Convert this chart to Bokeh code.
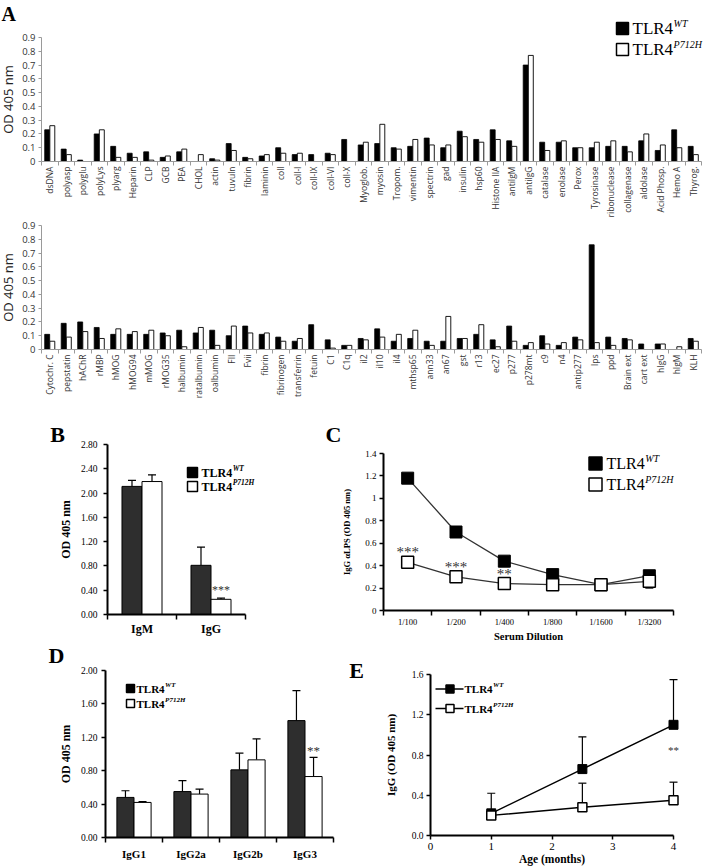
import numpy as np
from bokeh.plotting import figure
from bokeh.layouts import column, row
from bokeh.models import (Range1d, FixedTicker, Label, Whisker, ColumnDataSource, TeeHead,
                          LinearAxis)
from bokeh.embed import file_html
from bokeh.resources import INLINE

SANS = "Open Sans"
SERIF = "Liberation Serif"

# ---------------- data ----------------
a1_antigens = ["dsDNA", "polyasp", "polyglu", "polyLys", "plyarg", "Heparin", "CLP", "GCB", "PEA", "CHOL",
               "actin", "tuvuln", "fibrin", "laminin", "coll", "coll-I", "coll-IX", "coll-VI", "coll-X", "Myoglob.",
               "myosin", "Tropom.", "vimentin", "spectrin", "gad", "insulin", "hsp60", "Histone IIA", "antiIgM", "antiIgG",
               "catalase", "enolase", "Perox", "Tyrosinase", "ribonuclease", "collagenase", "aldolase", "Acid Phosp.", "Hemo A", "Thyrog."]
a1_wt = [0.23, 0.09, 0.01, 0.20, 0.11, 0.06, 0.07, 0.03, 0.07, 0.00,
         0.02, 0.13, 0.03, 0.04, 0.10, 0.05, 0.05, 0.06, 0.16, 0.12,
         0.13, 0.10, 0.11, 0.17, 0.10, 0.22, 0.16, 0.23, 0.15, 0.70,
         0.14, 0.14, 0.10, 0.10, 0.11, 0.11, 0.15, 0.08, 0.23, 0.11]
a1_mut = [0.26, 0.05, 0.00, 0.23, 0.03, 0.03, 0.01, 0.04, 0.09, 0.05,
          0.01, 0.08, 0.02, 0.05, 0.06, 0.06, 0.00, 0.05, 0.00, 0.14,
          0.27, 0.09, 0.16, 0.12, 0.12, 0.18, 0.14, 0.16, 0.11, 0.77,
          0.08, 0.15, 0.10, 0.14, 0.15, 0.07, 0.20, 0.12, 0.10, 0.05]

a2_antigens = ["Cytochr. C", "pepstatin", "hAChR", "rMBP", "hMOG", "hMOG94", "mMOG", "rMOG35", "halbumin", "ratalbumin",
               "oalbumin", "FII", "Fvii", "fibrin", "fibrinogen", "transferrin", "fetuin", "C1", "C1q", "il2",
               "il10", "il4", "mthsp65", "ann33", "an67", "gst", "r13", "ec27", "p277", "p278mt",
               "c9", "n4", "antip277", "lps", "ppd", "Brain ext", "cart ext", "hIgG", "hIgM", "KLH"]
a2_wt = [0.11, 0.19, 0.20, 0.16, 0.11, 0.11, 0.11, 0.12, 0.14, 0.12,
         0.14, 0.10, 0.17, 0.11, 0.09, 0.06, 0.18, 0.07, 0.03, 0.08,
         0.15, 0.06, 0.08, 0.06, 0.06, 0.08, 0.11, 0.07, 0.17, 0.03,
         0.10, 0.03, 0.09, 0.76, 0.09, 0.08, 0.04, 0.04, 0.00, 0.08]
a2_mut = [0.06, 0.09, 0.13, 0.08, 0.15, 0.13, 0.14, 0.10, 0.02, 0.16,
          0.03, 0.17, 0.12, 0.12, 0.06, 0.08, 0.00, 0.01, 0.03, 0.07,
          0.09, 0.11, 0.14, 0.03, 0.24, 0.08, 0.18, 0.02, 0.06, 0.05,
          0.04, 0.05, 0.07, 0.05, 0.03, 0.07, 0.00, 0.04, 0.02, 0.06]

b_isotypes = ["IgM", "IgG"]
b_wt = [2.11, 0.81]
b_wt_sd = [0.10, 0.30]
b_mut = [2.19, 0.25]
b_mut_sd = [0.11, 0.02]
b_sig = ["", "***"]

c_dilutions = ["1/100", "1/200", "1/400", "1/800", "1/1600", "1/3200"]
c_wt = [1.18, 0.70, 0.44, 0.32, 0.23, 0.31]
c_mut = [0.43, 0.30, 0.24, 0.23, 0.23, 0.26]
c_mut_sd_up = [0.05, 0.0, 0.0, 0.0, 0.0, 0.0]
c_mut_sd_dn = [0.05, 0.0, 0.0, 0.0, 0.0, 0.06]
c_sig = ["***", "***", "**", "", "", ""]

d_subclasses = ["IgG1", "IgG2a", "IgG2b", "IgG3"]
d_wt = [0.48, 0.55, 0.81, 1.40]
d_wt_sd = [0.08, 0.13, 0.20, 0.36]
d_mut = [0.42, 0.52, 0.93, 0.73]
d_mut_sd = [0.01, 0.06, 0.25, 0.23]
d_sig = ["", "", "", "**"]

e_age = [1.0, 2.5, 4.0]
e_wt = [0.22, 0.66, 1.10]
e_wt_sd = [0.20, 0.32, 0.45]
e_mut = [0.20, 0.28, 0.35]
e_mut_sd = [0.0, 0.24, 0.18]
e_sig = ["", "", "**"]


# ---------------- helpers ----------------
def make_panel(ox, oy, w, h, rect, xr, yr):
    """Figure whose frame fills the canvas; axes are pinned at the data origin."""
    pl, pt, pr, pb = rect
    dx = (xr[1] - xr[0]) / (pr - pl)
    dy = (yr[1] - yr[0]) / (pb - pt)
    X0 = xr[0] - (pl - ox) * dx
    X1 = xr[0] + (ox + w - pl) * dx
    Y1 = yr[1] + (pt - oy) * dy
    Y0 = yr[0] - (oy + h - pb) * dy
    p = figure(width=w, height=h, x_range=Range1d(X0, X1), y_range=Range1d(Y0, Y1),
               x_axis_location=None, y_axis_location=None,
               output_backend="svg", toolbar_location=None,
               min_border=0, min_border_left=0, min_border_right=0,
               min_border_top=0, min_border_bottom=0)
    p.title.visible = False
    p.outline_line_color = None
    p.grid.visible = False
    xa = LinearAxis(fixed_location=yr[0], bounds=xr)
    ya = LinearAxis(fixed_location=xr[0], bounds=yr)
    p.add_layout(xa, "below")
    p.add_layout(ya, "left")
    g = dict(ox=ox, oy=oy, w=w, h=h, X0=X0, X1=X1, Y0=Y0, Y1=Y1)
    return p, g, xa, ya


def to_data(g, px, py):
    xd = g["X0"] + (px - g["ox"]) / g["w"] * (g["X1"] - g["X0"])
    yd = g["Y1"] - (py - g["oy"]) / g["h"] * (g["Y1"] - g["Y0"])
    return float(xd), float(yd)


def add_text(p, g, px, py, text, size, font=SERIF, style="normal", align="left",
             baseline="middle", color="black"):
    xd, yd = to_data(g, px, py)
    p.add_layout(Label(x=xd, y=yd, text=text, text_font=font, text_font_size=f"{size}px",
                       text_font_style=style, text_align=align, text_baseline=baseline,
                       text_color=color))


W_REG = {"T": 0.611, "L": 0.611, "R": 0.667, "4": 0.5}
W_BOLD = {"T": 0.667, "L": 0.667, "R": 0.722, "4": 0.5}


def legend_entry(p, g, sx, sy, ssize, filled, tx, size, sup, sup_size, sup_dy,
                 bold=False, line=None):
    xd, yd = to_data(g, sx, sy)
    if line is not None:
        xa, _ = to_data(g, line[0], sy)
        xb, _ = to_data(g, line[1], sy)
        p.line([xa, xb], [yd, yd], line_color="black", line_width=1.5)
    p.scatter([xd], [yd], marker="square", size=ssize,
              fill_color="black" if filled else "white", line_color="black", line_width=1.5)
    base = "TLR4"
    widths = W_BOLD if bold else W_REG
    w = sum(widths[c] for c in base) * size
    add_text(p, g, tx, sy, base, size, style="bold" if bold else "normal")
    add_text(p, g, tx + w + 0.5, sy - sup_dy, sup, sup_size,
             style="bold italic" if bold else "italic")


def add_stars(p, xs, ys, marks, size, dy, color="#333333"):
    for x, y, m in zip(xs, ys, marks):
        if m:
            p.add_layout(Label(x=float(x), y=float(y), text=m, y_offset=dy,
                               text_align="center", text_baseline="middle",
                               text_font=SERIF, text_font_size=f"{size}px", text_color=color))


def serif_axis(ax, lw=2.0):
    ax.axis_line_width = lw
    ax.axis_line_color = "black"
    ax.major_tick_line_color = "black"
    ax.minor_tick_line_color = "black"
    ax.major_tick_line_width = 1.5
    ax.minor_tick_line_width = 1.5
    ax.major_tick_in = 0
    ax.major_tick_out = 4
    ax.minor_tick_in = 0
    ax.minor_tick_out = 0
    ax.major_label_text_font = SERIF
    ax.major_label_text_color = "black"
    ax.axis_label_text_font = SERIF
    ax.axis_label_text_font_style = "bold"
    ax.axis_label_text_color = "black"


def cat_xaxis(ax, labels, label_size, bold, standoff):
    n = len(labels)
    ax.ticker = FixedTicker(ticks=list(range(n)), minor_ticks=[i - 0.5 for i in range(n + 1)])
    ax.major_label_overrides = {i: lab for i, lab in enumerate(labels)}
    ax.major_tick_out = 0
    ax.minor_tick_out = 5
    ax.major_label_text_font_size = f"{label_size}px"
    ax.major_label_text_font_style = "bold" if bold else "normal"
    ax.major_label_standoff = standoff


def num_axis(ax, ticks, fmt, size, standoff):
    ax.ticker = FixedTicker(ticks=ticks, minor_ticks=[])
    ax.major_label_overrides = {t: fmt(t) for t in ticks}
    ax.major_label_text_font_size = f"{size}px"
    ax.major_label_standoff = standoff


# ---------------- panel A ----------------
def panel_a(oy, h, rect, antigens, wt, mut):
    n = len(antigens)
    p, g, xa, ya = make_panel(0, oy, 706, h, rect, (-0.5, n - 0.5), (0, 0.9))
    idx = list(range(n))
    src = ColumnDataSource(dict(xw=[i - 0.155 for i in idx], xm=[i + 0.155 for i in idx],
                                wt=wt, mut=mut))
    p.vbar(x="xw", top="wt", bottom=0, width=0.3, source=src,
           fill_color="black", line_color="black", line_width=0.8)
    p.vbar(x="xm", top="mut", bottom=0, width=0.3, source=src,
           fill_color="white", line_color="black", line_width=0.9)
    for ax in (xa, ya):
        ax.axis_line_color = "#9a9a9a"
        ax.major_tick_line_color = "#9a9a9a"
        ax.minor_tick_line_color = "#9a9a9a"
        ax.major_label_text_font = SANS
        ax.major_label_text_color = "#333333"
        ax.major_tick_in = 0
        ax.minor_tick_in = 0
    xa.ticker = FixedTicker(ticks=idx, minor_ticks=[i - 0.5 for i in range(n + 1)])
    xa.major_label_overrides = {i: lab for i, lab in enumerate(antigens)}
    xa.major_label_orientation = np.pi / 2
    xa.major_tick_out = 0
    xa.minor_tick_out = 4
    xa.major_label_standoff = 1
    xa.major_label_text_font_size = "8.5px"
    yt = [round(0.1 * i, 1) for i in range(10)]
    ya.ticker = FixedTicker(ticks=yt, minor_ticks=[])
    ya.major_label_overrides = {v: ("0" if v == 0 else f"{v:.1f}") for v in yt}
    ya.major_tick_out = 3
    ya.minor_tick_out = 0
    ya.major_label_standoff = 3
    ya.major_label_text_font_size = "9.5px"
    ya.axis_label = "OD 405 nm"
    ya.axis_label_text_font = SANS
    ya.axis_label_text_font_size = "13px"
    ya.axis_label_text_font_style = "normal"
    ya.axis_label_text_color = "#222222"
    ya.axis_label_standoff = 2
    return p, g


pA1, gA1 = panel_a(0, 218, (41, 37, 701, 161), a1_antigens, a1_wt, a1_mut)
pA2, gA2 = panel_a(218, 192, (41, 225, 701, 349), a2_antigens, a2_wt, a2_mut)
add_text(pA1, gA1, 1, 13, "A", 20, style="bold")
legend_entry(pA1, gA1, 622, 28, 12, True, 632, 17, "WT", 10, 5)
legend_entry(pA1, gA1, 622, 49, 12, False, 632, 17, "P712H", 10, 5)

# ---------------- panel B ----------------
pB, gB, bxa, bya = make_panel(0, 410, 318, 232, (107, 444, 245, 614), (-0.5, 1.5), (0, 2.8))
bx = list(range(len(b_isotypes)))
srcB = ColumnDataSource(dict(
    xw=[i - 0.145 for i in bx], xm=[i + 0.145 for i in bx], wt=b_wt, mut=b_mut,
    wt_hi=[v + s for v, s in zip(b_wt, b_wt_sd)], mut_hi=[v + s for v, s in zip(b_mut, b_mut_sd)]))
pB.add_layout(Whisker(source=srcB, base="xw", lower="wt", upper="wt_hi", line_width=1.2,
                      upper_head=TeeHead(size=8, line_width=1.2), lower_head=None))
pB.add_layout(Whisker(source=srcB, base="xm", lower="mut", upper="mut_hi", line_width=1.2,
                      upper_head=TeeHead(size=8, line_width=1.2), lower_head=None))
pB.vbar(x="xw", top="wt", bottom=0, width=0.29, source=srcB,
        fill_color="#2e2e2e", line_color="black", line_width=1)
pB.vbar(x="xm", top="mut", bottom=0, width=0.29, source=srcB,
        fill_color="white", line_color="black", line_width=1)
serif_axis(bxa)
serif_axis(bya)
cat_xaxis(bxa, b_isotypes, 12, True, 2)
num_axis(bya, [round(0.4 * i, 2) for i in range(8)], lambda v: f"{v:.2f}", 9.5, 6)
bya.axis_label = "OD 405 nm"
bya.axis_label_text_font_size = "12px"
bya.axis_label_standoff = 5
add_stars(pB, srcB.data["xm"], srcB.data["mut_hi"], b_sig, 12, 8)
add_text(pB, gB, 57, 434, "B", 22, style="bold", align="center")
legend_entry(pB, gB, 192, 472, 10, True, 201, 12, "WT", 7.5, 4, bold=True)
legend_entry(pB, gB, 192, 486, 10, False, 201, 12, "P712H", 7.5, 4, bold=True)

# ---------------- panel C ----------------
pC, gC, cxa, cya = make_panel(318, 410, 388, 232, (383, 453, 673, 610), (-0.5, 5.5), (0, 1.4))
cx = list(range(len(c_dilutions)))
srcC = ColumnDataSource(dict(
    x=cx, wt=c_wt, mut=c_mut,
    lo=[v - s for v, s in zip(c_mut, c_mut_sd_dn)], hi=[v + s for v, s in zip(c_mut, c_mut_sd_up)]))
pC.add_layout(Whisker(source=srcC, base="x", lower="lo", upper="hi", line_width=1.2,
                      upper_head=TeeHead(size=8, line_width=1.2),
                      lower_head=TeeHead(size=8, line_width=1.2)))
pC.line(x="x", y="wt", source=srcC, line_color="#333333", line_width=1.3)
pC.line(x="x", y="mut", source=srcC, line_color="#333333", line_width=1.3)
pC.scatter(x="x", y="wt", source=srcC, marker="square", size=12,
           fill_color="black", line_color="black")
pC.scatter(x="x", y="mut", source=srcC, marker="square", size=12,
           fill_color="white", line_color="black", line_width=1.5)
serif_axis(cxa)
serif_axis(cya)
cat_xaxis(cxa, c_dilutions, 8.5, False, 1)
cxa.axis_label = "Serum Dilution"
cxa.axis_label_text_font_size = "10.5px"
cxa.axis_label_standoff = 1
num_axis(cya, [round(0.2 * i, 1) for i in range(8)], lambda v: f"{v:g}", 9, 3)
cya.axis_label = "IgG \u03b1LPS (OD 405 nm)"
cya.axis_label_text_font_size = "8.5px"
cya.axis_label_standoff = 10
add_stars(pC, cx, c_mut, c_sig, 15, 10)
add_text(pC, gC, 333, 434, "C", 22, style="bold", align="center")
legend_entry(pC, gC, 595, 463, 13, True, 606, 16, "WT", 10, 5)
legend_entry(pC, gC, 595, 484, 13, False, 606, 16, "P712H", 10, 5)

# ---------------- panel D ----------------
pD, gD, dxa, dya = make_panel(0, 642, 340, 224, (105, 670, 333, 837), (-0.5, 3.5), (0, 2.0))
dx = list(range(len(d_subclasses)))
srcD = ColumnDataSource(dict(
    xw=[i - 0.15 for i in dx], xm=[i + 0.15 for i in dx], wt=d_wt, mut=d_mut,
    wt_hi=[v + s for v, s in zip(d_wt, d_wt_sd)], mut_hi=[v + s for v, s in zip(d_mut, d_mut_sd)]))
pD.add_layout(Whisker(source=srcD, base="xw", lower="wt", upper="wt_hi", line_width=1.2,
                      upper_head=TeeHead(size=8, line_width=1.2), lower_head=None))
pD.add_layout(Whisker(source=srcD, base="xm", lower="mut", upper="mut_hi", line_width=1.2,
                      upper_head=TeeHead(size=8, line_width=1.2), lower_head=None))
pD.vbar(x="xw", top="wt", bottom=0, width=0.3, source=srcD,
        fill_color="#2e2e2e", line_color="black", line_width=1)
pD.vbar(x="xm", top="mut", bottom=0, width=0.3, source=srcD,
        fill_color="white", line_color="black", line_width=1)
serif_axis(dxa)
serif_axis(dya)
cat_xaxis(dxa, d_subclasses, 11, True, 5)
num_axis(dya, [round(0.4 * i, 2) for i in range(6)], lambda v: f"{v:.2f}", 9.5, 4)
dya.axis_label = "OD 405 nm"
dya.axis_label_text_font_size = "12px"
dya.axis_label_standoff = 5
add_stars(pD, srcD.data["xm"], srcD.data["mut_hi"], d_sig, 13, 7)
add_text(pD, gD, 56, 655, "D", 22, style="bold", align="center")
legend_entry(pD, gD, 130, 688, 8, True, 136, 11, "WT", 7, 4, bold=True)
legend_entry(pD, gD, 130, 703, 8, False, 136, 11, "P712H", 7, 4, bold=True)

# ---------------- panel E ----------------
pE, gE, exa, eya = make_panel(340, 642, 366, 224, (430, 674, 673, 835), (0, 4), (0, 1.6))
srcE = ColumnDataSource(dict(
    x=e_age, wt=e_wt, mut=e_mut,
    wt_hi=[v + s for v, s in zip(e_wt, e_wt_sd)], mut_hi=[v + s for v, s in zip(e_mut, e_mut_sd)]))
pE.add_layout(Whisker(source=srcE, base="x", lower="wt", upper="wt_hi", line_width=1.2,
                      upper_head=TeeHead(size=8, line_width=1.2), lower_head=None))
pE.add_layout(Whisker(source=srcE, base="x", lower="mut", upper="mut_hi", line_width=1.2,
                      upper_head=TeeHead(size=8, line_width=1.2), lower_head=None))
pE.line(x="x", y="wt", source=srcE, line_color="black", line_width=1.5)
pE.line(x="x", y="mut", source=srcE, line_color="black", line_width=1.5)
pE.scatter(x="x", y="wt", source=srcE, marker="square", size=9,
           fill_color="black", line_color="black")
pE.scatter(x="x", y="mut", source=srcE, marker="square", size=9,
           fill_color="white", line_color="black", line_width=1.5)
serif_axis(exa)
serif_axis(eya)
num_axis(exa, [0, 1, 2, 3, 4], lambda v: f"{v}", 11, 3)
exa.axis_label = "Age (months)"
exa.axis_label_text_font_size = "11.5px"
exa.axis_label_standoff = 0
num_axis(eya, [round(0.4 * i, 1) for i in range(5)], lambda v: f"{v:.1f}", 9.5, 3)
eya.axis_label = "IgG (OD 405 nm)"
eya.axis_label_text_font_size = "11px"
eya.axis_label_standoff = 12
add_stars(pE, e_age, srcE.data["mut_hi"], e_sig, 11, 32)
add_text(pE, gE, 356, 670, "E", 22, style="bold", align="center")
legend_entry(pE, gE, 449.5, 688.5, 8, True, 464, 11, "WT", 7, 4, bold=True, line=(435, 463))
legend_entry(pE, gE, 449.5, 708, 8, False, 464, 11, "P712H", 7, 4, bold=True, line=(435, 463))

layout = column(pA1, pA2, row(pB, pC), row(pD, pE))
open("out.html", "w").write(file_html(layout, INLINE))
